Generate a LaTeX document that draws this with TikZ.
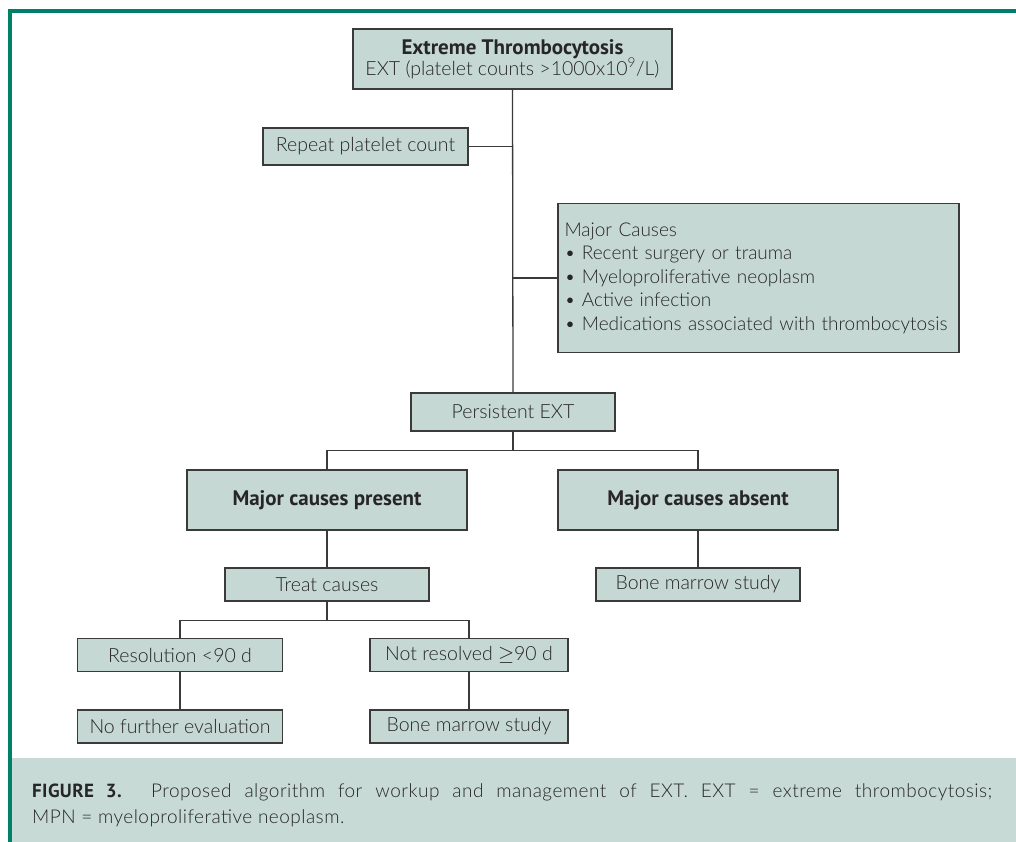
\documentclass[tikz,border=0pt]{standalone}
\usepackage{fontspec}
\setmainfont{Lato}[UprightFont={* Light},BoldFont={* Bold}]
\newfontfamily\headfont{PT Sans}
\newfontfamily\capfont{Lato}[UprightFont={* Light},LetterSpace=2.5]
\newfontfamily\capheadfont{PT Sans}[LetterSpace=2]
\definecolor{boxfill}{HTML}{C6D8D4}
\definecolor{capbg}{HTML}{C8DAD6}
\definecolor{framegreen}{HTML}{00806A}
\definecolor{linegrey}{HTML}{3A3A3A}
\tikzset{
  box/.style={draw=linegrey, line width=1.3pt, fill=boxfill, inner sep=0pt, align=center, font=\fontsize{19.5}{23}\selectfont, text=black!85},
  headbox/.style={box, font=\headfont\bfseries\fontsize{21}{25}\selectfont},
  conn/.style={draw=linegrey, line width=1.3pt},
  captext/.style={anchor=base west, inner sep=0pt, font=\capfont\fontsize{19}{26}\selectfont, text=black!85}
}
\begin{document}
\begin{tikzpicture}[x=1pt,y=-1pt]
\useasboundingbox (0,0) rectangle (1016,842);
% frame and caption background
\fill[capbg] (12,758) rectangle (1016,842);
\draw[framegreen, line width=3.6pt] (10,842) -- (10,11.3) -- (1016,11.3);
% nodes
\node[box, minimum width=319pt, minimum height=60pt] (top) at (512.5,59)
  {{\headfont\bfseries\fontsize{21}{23}\selectfont Extreme Thrombocytosis}\\[-2pt]EXT (platelet counts >1000x10\textsuperscript{9}/L)};
\node[box, minimum width=205pt, minimum height=37pt] (repeat) at (365.5,146.5) {Repeat platelet count};
\node[box, minimum width=401pt, minimum height=149pt, text width=388pt, align=left, font=\fontsize{19}{23.5}\selectfont] (causes) at (758.5,278)
  {Major Causes\\
   \textbullet\ Recent surgery or trauma\\
   \textbullet\ Myeloproliferative neoplasm\\
   \textbullet\ Active infection\\
   \textbullet\ Medications associated with thrombocytosis};
\node[box, minimum width=204pt, minimum height=38pt] (persist) at (513,412) {Persistent EXT};
\node[headbox, minimum width=280pt, minimum height=60pt] (present) at (327,500) {Major causes present};
\node[headbox, minimum width=280pt, minimum height=60pt] (absent) at (698,500) {Major causes absent};
\node[box, minimum width=204pt, minimum height=33pt] (treat) at (327,584.5) {Treat causes};
\node[box, minimum width=204pt, minimum height=33pt] (bone1) at (698,584.5) {Bone marrow study};
\node[box, minimum width=205pt, minimum height=33pt] (resol) at (180,655) {Resolution <90 d};
\node[box, minimum width=198pt, minimum height=33pt] (notres) at (469,655) {Not resolved ${\geq}$90 d};
\node[box, minimum width=205pt, minimum height=33pt] (nofurther) at (180,726.5) {No further evaluation};
\node[box, minimum width=198pt, minimum height=33pt] (bone2) at (469,726.5) {Bone marrow study};
% connectors
\coordinate (j1) at (513,146.5);
\coordinate (j2) at (513,278);
\draw[conn] (top.south) -- (persist.north);
\draw[conn] (repeat.east) -- (j1);
\draw[conn] (j2) -- (j2 -| causes.west);
\draw[conn] (persist.south) -- ++(0,19) -| (present.north);
\draw[conn] (persist.south) -- ++(0,19) -| (absent.north);
\draw[conn] (present.south) -- (treat.north);
\draw[conn] (absent.south) -- (bone1.north);
\draw[conn] (treat.south) -- ++(0,19) -| (resol.north);
\draw[conn] (treat.south) -- ++(0,19) -| (notres.north);
\draw[conn] (resol.south) -- (nofurther.north);
\draw[conn] (notres.south) -- (bone2.north);
% caption
\node[captext] (cap1) at (32,797)
  {\makebox[960pt][s]{{\capheadfont\bfseries FIGURE 3.} Proposed algorithm for workup and management of EXT. EXT = extreme thrombocytosis;}};
\node[captext] (cap2) at (32,823)
  {MPN = myeloproliferative neoplasm.};
\end{tikzpicture}
\end{document}
